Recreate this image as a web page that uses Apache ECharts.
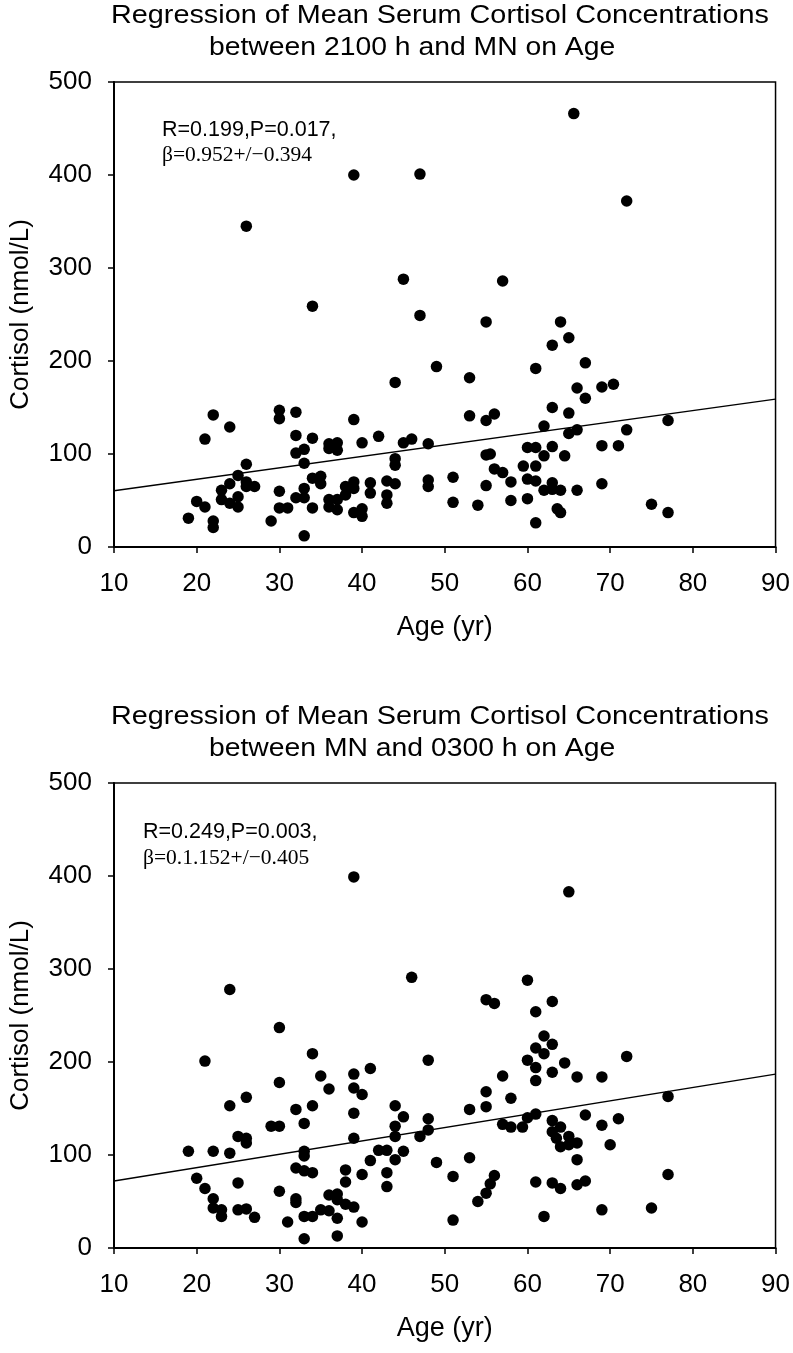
<!DOCTYPE html>
<html>
<head>
<meta charset="utf-8">
<script src="https://cdn.jsdelivr.net/npm/echarts@6/dist/echarts.min.js"></script>
<style>
html,body{margin:0;padding:0;background:#fff;}
#c{width:793px;height:1353px;}
</style>
</head>
<body>
<div id="c"></div>
<script>
// ---- Data ----
const xTicks = [10, 20, 30, 40, 50, 60, 70, 80, 90];
const yTicks = [0, 100, 200, 300, 400, 500];

const title1 = ['Regression of Mean Serum Cortisol Concentrations', 'between 2100 h and MN on Age'];
const title2 = ['Regression of Mean Serum Cortisol Concentrations', 'between MN and 0300 h on Age'];
const stats1 = ['R=0.199,P=0.017,', '\u03B2=0.952+/\u22120.394'];
const stats2 = ['R=0.249,P=0.003,', '\u03B2=0.1.152+/\u22120.405'];

// Chart 1: 2100 h to MN
const age1 = [39,47,26,45,34,65.6,72,57,47,49,44,22,24,21,30,30,32,39,32,34,32,33,33,36,36,37,37,40,42,45,46,48,44,44,26,25,24,23,26,26,27,25,23,24,25,20,21,19,22,22,30,30,31,29,33,33,32,33,34,35,35,34,36,36,37,37,38,38,39,39,39,40,40,41,41,43,43,43,44,48,48,51,51,55,64,65,63,67,61,53,66,69,70.4,67,63,65,53,55,56,77,62,65,66,72,69,71,60,61,63,62,64.5,55,55.5,59.5,61,56,57,58,60,61,63,62,63,64,66,69,55,54,58,60,63.6,64,61,75,77];
const cort1 = [400,401,345,288,259,466,372,286,249,194,177,142,129,116,147,138,145,137,120,117,101,105,90,111,106,112,104,112,119,112,116,111,95,88,89,77,68,61,70,65,65,54,51,47,43,49,43,31,28,21,60,42,42,28,12,63,53,53,74,76,68,42,51,43,51,40,65,56,70,63,37,41,33,69,58,71,56,47,68,72,65,75,48,242,242,225,217,198,192,182,171,172,175,160,150,144,141,136,143,136,130,122,126,126,109,109,107,107,108,98,98,99,100,87,87,84,80,70,73,71,69,61,62,61,61,68,66,45,50,52,41,37,26,46,37];
const reg1X = [10, 90];
const reg1Y = [60.5, 159];

// Chart 2: MN to 0300 h
const age2 = [39,46,24,65,60,30,21,48,34,35,36,39,39,40,41,30,26,24,32,34,33,39,44,45,48,29,30,25,26,26,39,44,44,47,48,19,22,24,33,33,42,43,45,44,41,49,20,21,22,22,23,23,25,25,26,27,30,31,32,33,34,32,32,33,34,35,36,36,37,37,38,39,37,33,37,38,38,40,40,43,43,55,56,63,61,62,63,61,62,60,61,64.5,72,57,63,61,66,69,55,58,55,53,77,57,58,59.4,60,61,63,63,64,63.5,64,65,66,65,66,67,69,71,70,69,75,77,51,51,53,54,55,55.5,56,61,63,64,66,67,62];
const cort2 = [399,291,278,383,288,237,201,202,209,185,171,187,172,165,193,178,162,153,149,153,134,145,153,141,139,131,131,120,118,113,118,131,120,120,127,104,104,102,104,99,105,105,104,95,94,92,75,64,53,43,41,34,70,41,42,33,61,28,86,83,81,53,49,34,34,41,40,57,58,52,47,44,32,10,13,84,71,79,28,81,66,267,263,265,254,228,219,215,209,202,194,199,206,185,189,180,184,184,168,161,152,149,163,133,130,130,140,144,137,125,130,118,109,120,113,111,95,143,132,139,111,41,43,79,77,30,97,50,59,69,78,71,70,64,68,72,34];
const reg2X = [10, 90];
const reg2Y = [72, 187];

// ---- Build ----
const pts = (xs, ys) => xs.map((x, i) => [x, ys[i]]);
const FONT = '"Liberation Sans", Arial, Helvetica, sans-serif';
const SERIF = '"Liberation Serif", "Times New Roman", serif';

function mkX(gi) {
  return {
    gridIndex: gi, type: 'value', min: xTicks[0], max: xTicks[xTicks.length - 1], interval: 10,
    axisLine: { onZero: false, lineStyle: { color: '#000', width: 2 } },
    axisTick: { show: true, inside: false, length: 6, lineStyle: { color: '#000', width: 1.5 } },
    axisLabel: { color: '#000', fontSize: 26, fontFamily: FONT, margin: 24 },
    splitLine: { show: false },
    name: 'Age (yr)', nameLocation: 'middle', nameGap: 67,
    nameTextStyle: { color: '#000', fontSize: 27, fontFamily: FONT }
  };
}
function mkY(gi) {
  return {
    gridIndex: gi, type: 'value', min: yTicks[0], max: yTicks[yTicks.length - 1], interval: 100,
    axisLine: { onZero: false, lineStyle: { color: '#000', width: 2 } },
    axisTick: { show: true, inside: false, length: 6, lineStyle: { color: '#000', width: 1.5 } },
    axisLabel: { color: '#000', fontSize: 26, fontFamily: FONT, margin: 22 },
    splitLine: { show: false },
    name: 'Cortisol (nmol/L)', nameLocation: 'middle', nameGap: 80,
    nameTextStyle: { color: '#000', fontSize: 26, fontFamily: FONT }
  };
}
function txt(x, y, text, size, family, sx, sy) {
  return {
    type: 'text', x: x, y: y, scaleX: sx || 1, scaleY: sy || 1, silent: true,
    style: { text: text, fontSize: size, fontFamily: family, fill: '#000',
             textAlign: 'left', verticalAlign: 'middle', textVerticalAlign: 'middle' }
  };
}

const chart = echarts.init(document.getElementById('c'), null, { renderer: 'canvas' });
chart.setOption({
  backgroundColor: '#fff',
  animation: false,
  grid: [
    { left: 114, top: 82, width: 664, height: 465, show: true, borderColor: '#000', borderWidth: 1.5, backgroundColor: 'transparent' },
    { left: 114, top: 783, width: 664, height: 465, show: true, borderColor: '#000', borderWidth: 1.5, backgroundColor: 'transparent' }
  ],
  xAxis: [mkX(0), mkX(1)],
  yAxis: [mkY(0), mkY(1)],
  graphic: [
    txt(111, 16, title1[0], 24, FONT, 1.2, 1.1),
    txt(209, 48, title1[1], 24, FONT, 1.18, 1.1),
    txt(111, 717, title2[0], 24, FONT, 1.2, 1.1),
    txt(209, 749, title2[1], 24, FONT, 1.18, 1.1),
    txt(162, 130, stats1[0], 21.5, FONT),
    txt(162, 155, stats1[1], 21.5, SERIF),
    txt(143, 832, stats2[0], 21.5, FONT),
    txt(143, 858, stats2[1], 21.5, SERIF)
  ],
  series: [
    { type: 'scatter', xAxisIndex: 0, yAxisIndex: 0, data: pts(age1, cort1), symbol: 'circle', symbolSize: 11.5,
      itemStyle: { color: '#000', opacity: 1 }, z: 3 },
    { type: 'line', xAxisIndex: 0, yAxisIndex: 0, data: pts(reg1X, reg1Y), showSymbol: false, symbol: 'none',
      lineStyle: { color: '#000', width: 1.4 }, z: 2 },
    { type: 'scatter', xAxisIndex: 1, yAxisIndex: 1, data: pts(age2, cort2), symbol: 'circle', symbolSize: 11.5,
      itemStyle: { color: '#000', opacity: 1 }, z: 3 },
    { type: 'line', xAxisIndex: 1, yAxisIndex: 1, data: pts(reg2X, reg2Y), showSymbol: false, symbol: 'none',
      lineStyle: { color: '#000', width: 1.4 }, z: 2 }
  ]
});
</script>
</body>
</html>
